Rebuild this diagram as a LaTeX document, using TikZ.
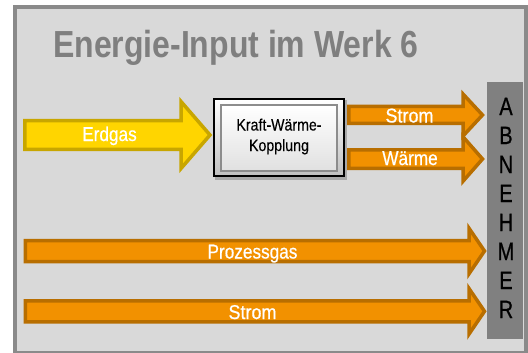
\documentclass[tikz,border=0pt]{standalone}
\usepackage{fontspec}
\setmainfont{Liberation Sans}

\definecolor{panel}{HTML}{D9D9D9}
\definecolor{framegray}{HTML}{8A8A8A}
\definecolor{titlegray}{HTML}{7F7F7F}
\definecolor{gasfill}{HTML}{FFD500}
\definecolor{gasline}{HTML}{C8A600}
\definecolor{flowfill}{HTML}{F29100}
\definecolor{flowline}{HTML}{B86E00}
\definecolor{barfill}{HTML}{808080}

% block arrow: style, x start, x neck, x tip, y centre, shaft half width, head half width
\newcommand\flowarrow[7]{%
  \draw[#1] (#2,#5-#6) -- (#3,#5-#6) -- (#3,#5-#7) -- (#4,#5)
    -- (#3,#5+#7) -- (#3,#5+#6) -- (#2,#5+#6) -- cycle;}
% horizontally condensed text
\newcommand\cond[2]{\scalebox{#1}[1]{#2}}

\begin{document}
\begin{tikzpicture}[x=1pt,y=-1pt,
  gasarrow/.style={fill=gasfill,draw=gasline,line width=3.5pt,miter limit=10},
  flowarrowstyle/.style={fill=flowfill,draw=flowline,line width=3.5pt,miter limit=10},
  flowlabel/.style={text=white,font=\fontsize{20}{22}\selectfont\addfontfeature{FakeBold=0.6},
    inner sep=0pt,anchor=base},
  letter/.style={text=black,font=\fontsize{25}{27}\selectfont\addfontfeature{FakeBold=0.8},
    inner sep=0pt,anchor=base},
  kwkbox/.style={draw=black,line width=2pt,top color=white,bottom color=black!25,
    minimum width=130,minimum height=77,inner sep=0pt},
  kwktext/.style={text=black,font=\fontsize{16.5}{20.5}\selectfont\addfontfeature{FakeBold=0.3},
    align=center,inner sep=0pt}]

\useasboundingbox (0,0) rectangle (528,353);
\fill[white] (0,0) rectangle (528,353);

% outer panel
\draw[framegray,fill=panel,line width=4pt] (15,7) rectangle (526,352.5);

% title
\node[anchor=base west,inner sep=0pt,text=titlegray,
      font=\fontsize{37.7}{40}\selectfont\bfseries] (title) at (53,57.5)
      {\cond{0.848}{Energie-Input im Werk 6}};

% consumer bar
\node[fill=barfill,minimum width=36,minimum height=257,inner sep=0pt,
      anchor=north west] (bar) at (487,82) {};
\foreach \l [count=\i from 0] in {A,B,N,E,H,M,E,R}
  \node[letter] (ab\i) at (506,115+29*\i) {\cond{0.8}{\l}};

% combined heat and power unit
\fill[black,opacity=0.22] (215,100) rectangle (347,180);
\node[kwkbox,anchor=north west] (kwk) at (213,98) {};
\draw[black!45,line width=1.2pt,top color=white,bottom color=black!12]
  ([shift={(8,7)}]kwk.north west) rectangle ([shift={(-8,-6)}]kwk.south east);
\node[kwktext] (kwklabel) at ([yshift=1]kwk.center)
  {\cond{0.86}{Kraft-Wärme-}\\\cond{0.86}{Kopplung}};

% natural gas input
\flowarrow{gasarrow}{24.75}{181}{210}{135}{14.25}{33.5}
\node[flowlabel] (erdgas) at (109.5,141) {\cond{0.86}{Erdgas}};

% outputs of the CHP unit
\flowarrow{flowarrowstyle}{348.75}{463}{482.5}{115}{8.5}{21}
\node[flowlabel] (strom1) at (409.5,122.5) {\cond{0.9}{Strom}};
\flowarrow{flowarrowstyle}{348.75}{463}{482.5}{159}{9.25}{22.25}
\node[flowlabel] (waerme) at (410,165) {\cond{0.86}{Wärme}};

% direct supplies
\flowarrow{flowarrowstyle}{25.4}{469}{484.5}{251}{10.5}{22.75}
\node[flowlabel] (prozessgas) at (252.5,258.5) {\cond{0.86}{Prozessgas}};
\flowarrow{flowarrowstyle}{25.4}{469}{484.5}{311.3}{10.5}{22.8}
\node[flowlabel] (strom2) at (252.5,319) {\cond{0.9}{Strom}};

\end{tikzpicture}
\end{document}
